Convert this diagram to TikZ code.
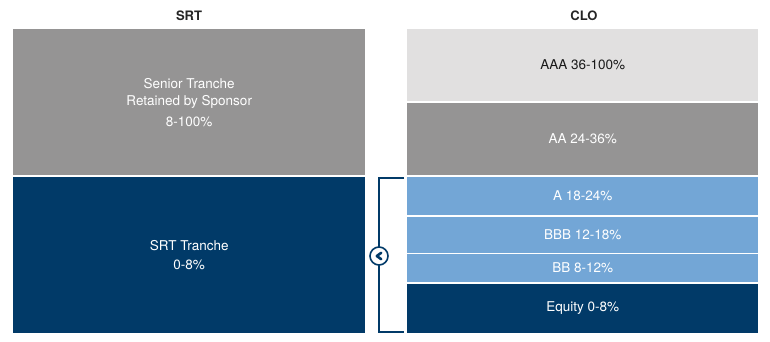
\documentclass[tikz,border=0pt]{standalone}
\usepackage{fontspec}
\setmainfont{TeX Gyre Heros}
\definecolor{srtgray}{HTML}{959494}
\definecolor{lightgray2}{HTML}{E1E0E0}
\definecolor{navy}{HTML}{013A68}
\definecolor{lblue}{HTML}{73A6D6}
\begin{document}
\begin{tikzpicture}[x=1pt,y=-1pt,
  tranche/.style={draw=none,inner sep=0pt,anchor=north west,align=center,text=white,font=\fontsize{13.5}{17}\selectfont},
  header/.style={font=\bfseries\fontsize{13}{15}\selectfont,text=black!85},
  brace/.style={draw=navy,line width=1.6pt}]
\useasboundingbox (0,0) rectangle (770,342);
\fill[white] (0,0) rectangle (770,342);
% headers
\node[header] (hsrt) at (189,16) {SRT};
\node[header] (hclo) at (584,16) {CLO};
% SRT column
\node[tranche,fill=srtgray,minimum width=352,minimum height=146] (senior) at (13,29) {Senior Tranche\\Retained by Sponsor\\[4pt]8-100\%};
\node[tranche,fill=navy,minimum width=352,minimum height=156,font=\fontsize{13.5}{18.5}\selectfont] (srtt) at (13,177) {SRT Tranche\\0-8\%};
% CLO column
\node[tranche,fill=lightgray2,text=black!90,minimum width=351,minimum height=72] (aaa) at (407,29) {AAA 36-100\%};
\node[tranche,fill=srtgray,minimum width=351,minimum height=72] (aa) at (407,103) {AA 24-36\%};
\node[tranche,fill=lblue,minimum width=351,minimum height=38] (a) at (407,177) {A 18-24\%};
\node[tranche,fill=lblue,minimum width=351,minimum height=36] (bbb) at (407,216.5) {BBB 12-18\%};
\node[tranche,fill=lblue,minimum width=351,minimum height=28] (bb) at (407,254) {BB 8-12\%};
\node[tranche,fill=navy,minimum width=351,minimum height=49.5] (eq) at (407,283.5) {Equity 0-8\%};
% bracket
\coordinate (bt) at (404,177.8);
\coordinate (bb2) at (404,332.2);
\coordinate (bcorner1) at (379,177.8);
\coordinate (bcorner2) at (379,332.2);
\draw[brace] (bt) -- (bcorner1) -- (bcorner2) -- (bb2);
\node[circle,draw=navy,line width=1.6pt,fill=white,minimum size=18,inner sep=0pt] (circ) at (379,256) {};
\draw[navy,line width=2.6pt,line cap=round,line join=round] ([xshift=2.2,yshift=-3.2]circ.center) -- ([xshift=-2.2]circ.center) -- ([xshift=2.2,yshift=3.2]circ.center);
\end{tikzpicture}
\end{document}
